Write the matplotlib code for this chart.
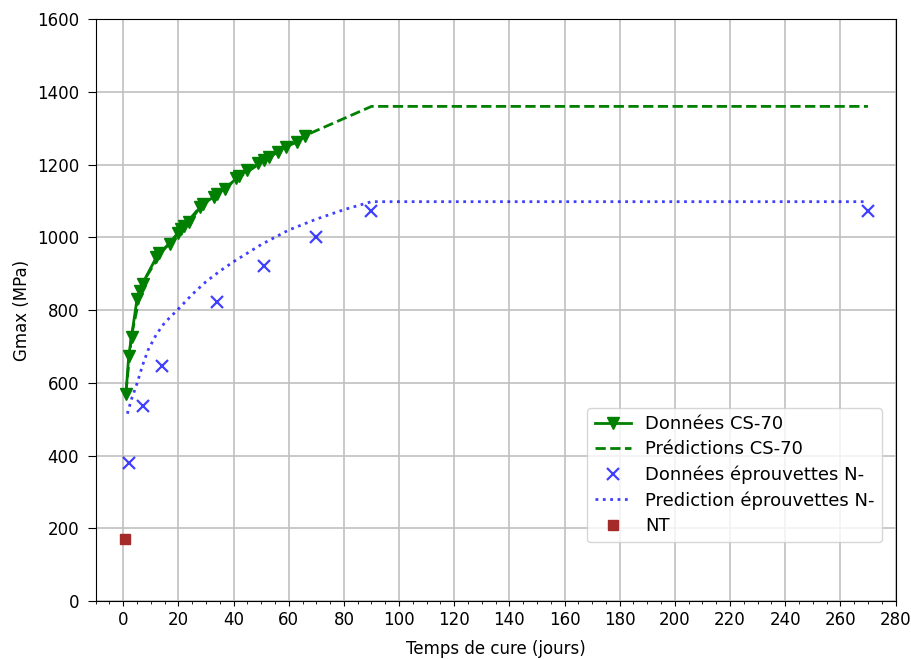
import matplotlib
matplotlib.use('Agg')
import matplotlib.pyplot as plt
from matplotlib.ticker import MultipleLocator
import numpy as np

# mesures CS-70 (Gmax en MPa selon le temps de cure en jours)
t_cs70 = [1, 2, 3, 5, 6, 7, 12, 13, 17, 20, 21, 22, 24, 28, 29, 33, 34, 37,
          41, 42, 45, 49, 51, 53, 56, 59, 63, 66]
g_cs70 = [570, 675, 727, 830, 852, 873, 945, 957, 983, 1013, 1024, 1030, 1042,
          1084, 1092, 1112, 1120, 1134, 1162, 1168, 1184, 1203, 1213, 1222,
          1235, 1249, 1262, 1278]

# prediction CS-70
t_pred_cs70 = [1, 3, 7, 14, 21, 28, 42, 56, 66, 90, 270]
g_pred_cs70 = [575, 730, 875, 960, 1022, 1085, 1165, 1235, 1280, 1360, 1360]

# eprouvettes N-
t_n = [2, 7, 14, 34, 51, 70, 90, 270]
g_n = [380, 535, 647, 823, 921, 1000, 1073, 1073]

t_pred_n = [1.5, 3, 5, 7, 9, 12, 15, 20, 25, 30, 35, 40, 50, 60, 70, 80, 90, 270]
g_pred_n = [515, 555, 598, 648, 690, 733, 765, 803, 843, 878, 907, 933, 980,
            1020, 1050, 1076, 1098, 1098]

# non traite
t_nt = [0.5]
g_nt = [170]

plt.rcParams['font.size'] = 12

fig = plt.figure(figsize=(9.11, 6.59), dpi=100)
ax = fig.add_axes([0.105, 0.088, 0.878, 0.883])

ax.plot(t_cs70, g_cs70, color='g', marker='v', markersize=8, linewidth=2,
        label='Données CS-70', zorder=3)
ax.plot(t_pred_cs70, g_pred_cs70, color='g', linestyle='--', linewidth=2,
        label='Prédictions CS-70', zorder=2)
ax.plot(t_n, g_n, color='b', marker='x', markersize=8.5, markeredgewidth=1.6,
        linestyle='none', alpha=0.75, label='Données éprouvettes N-', zorder=3)
ax.plot(t_pred_n, g_pred_n, color='b', linestyle=':', linewidth=2, alpha=0.75,
        label='Prediction éprouvettes N-', zorder=2)
ax.plot(t_nt, g_nt, color='brown', marker='s', markersize=6.5,
        linestyle='none', label='NT', zorder=3)

ax.set_xlim(-10, 280)
ax.set_ylim(0, 1600)
ax.xaxis.set_major_locator(MultipleLocator(20))
ax.xaxis.set_minor_locator(MultipleLocator(5))
ax.yaxis.set_major_locator(MultipleLocator(200))
ax.tick_params(axis='y', length=6, pad=6)
ax.grid(True, which='major', color='#c0c0c0', linewidth=1.2)
ax.set_axisbelow(True)

ax.set_xlabel('Temps de cure (jours)', labelpad=8)
ax.set_ylabel('Gmax (MPa)')

ax.legend(loc='lower right', bbox_to_anchor=(0.983, 0.101), borderaxespad=0,
          fontsize=13, labelspacing=0.4)

plt.savefig('out.png', dpi=100)
